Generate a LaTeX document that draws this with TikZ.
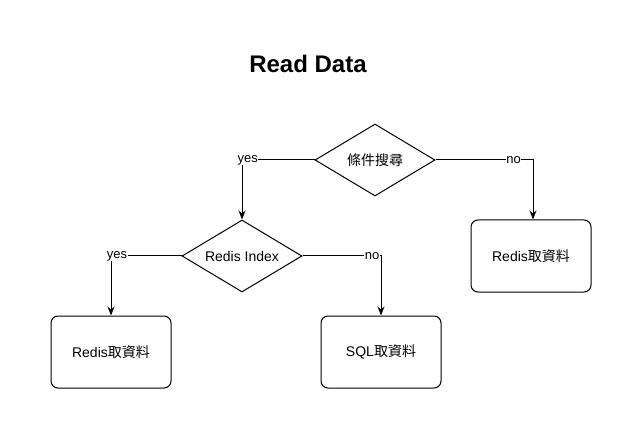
\documentclass[tikz,border=0pt]{standalone}
\usepackage{fontspec}
\setmainfont{Liberation Sans}
\newfontfamily\cjk{Noto Sans CJK TC}
\usetikzlibrary{shapes.geometric,arrows.meta}

\begin{document}
\begin{tikzpicture}[x=1pt,y=-1pt,line width=1pt,
		cond/.style={draw,shape=diamond,aspect=1.6667,minimum width=120pt,minimum height=72pt,inner sep=0pt,font=\fontsize{14}{16}\selectfont},
		fetch/.style={draw,rounded corners=7pt,minimum width=120pt,minimum height=72pt,inner sep=0pt,font=\fontsize{14}{16}\selectfont},
		flow/.style={-{Stealth[length=9pt,width=7pt]}},
		lbl/.style={fill=white,inner sep=0.5pt,font=\fontsize{13}{15}\selectfont}]
			\useasboundingbox (0,0) rectangle (642,438);
			\node (TT) at (308,64) {\bfseries\fontsize{24}{28}\selectfont Read Data};
			
			\node[cond] (DA) at (375,160) {\cjk 條件搜尋};
			\node[cond] (DB) at (242,256) {Redis Index};
			\node[fetch] (BA) at (531,256) {Redis{\cjk 取資料}};
			\node[fetch] (BB) at (111,352) {Redis{\cjk 取資料}};
			\node[fetch] (BC) at (381,352) {SQL{\cjk 取資料}};
			
			\draw[flow] (DA.west) -| (DB.north) node[lbl,pos=0.46] {yes};
			\draw[flow] (DA.east) -| ([xshift=2pt]BA.north) node[lbl,pos=0.40] {no};
			\draw[flow] (DB.west) -| (BB.north) node[lbl,pos=0.458] {yes};
			\draw[flow] (DB.east) -| (BC.north) node[lbl,pos=0.443] {no};
\end{tikzpicture}
\end{document}
